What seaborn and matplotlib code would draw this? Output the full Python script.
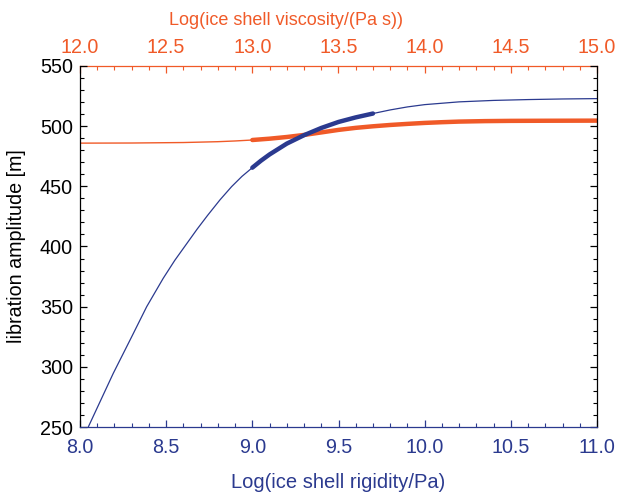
import numpy as np
import pandas as pd
import matplotlib
matplotlib.use("Agg")
import matplotlib.pyplot as plt
from matplotlib.ticker import MultipleLocator
import seaborn as sns

# --- data ---
rigidity = [8.048, 8.193, 8.30, 8.387, 8.483, 8.55, 8.62, 8.68, 8.74, 8.8125,
            8.88, 8.94, 9.0, 9.05, 9.1, 9.2, 9.3, 9.4, 9.5, 9.6,
            9.7, 9.8, 9.9, 10.0, 10.2, 10.4, 10.6, 10.8, 11.0]
amp_rigidity = [250, 294.6, 325, 350, 373.6, 388.5, 402.5, 414.5, 425.8, 438.8,
                449.8, 458.3, 465.5, 471.3, 476.5, 485.5, 492.5, 498.5, 503.5, 507.3,
                510.5, 513.5, 516.0, 517.9, 520.2, 521.4, 522.1, 522.6, 522.9]
rig_thick_range = (9.0, 9.7)

viscosity = [12.0, 12.3, 12.6, 12.8, 12.9, 13.0, 13.1, 13.2, 13.3, 13.4,
             13.5, 13.6, 13.7, 13.8, 13.9, 14.0, 14.1, 14.2, 14.35, 14.5,
             14.7, 15.0]
amp_viscosity = [485.9, 486.0, 486.4, 487.1, 487.7, 488.5, 489.6, 491.0, 492.7, 494.8,
                 496.9, 498.6, 499.9, 501.0, 501.9, 502.7, 503.3, 503.8, 504.2, 504.4,
                 504.5, 504.6]
visc_thick_range = (13.0, 15.0)

xticks_bottom = [8.0, 8.5, 9.0, 9.5, 10.0, 10.5, 11.0]
xticks_top = [12.0, 12.5, 13.0, 13.5, 14.0, 14.5, 15.0]
yticks = [250, 300, 350, 400, 450, 500, 550]

BLUE = "#2B3A8F"
ORANGE = "#F05A28"

sns.set_style("ticks")
plt.rcParams["font.family"] = ["Liberation Sans", "DejaVu Sans"]

df_r = pd.DataFrame({"x": rigidity, "y": amp_rigidity})
df_v = pd.DataFrame({"x": viscosity, "y": amp_viscosity})
df_r_thick = df_r[(df_r.x >= rig_thick_range[0]) & (df_r.x <= rig_thick_range[1])]
df_v_thick = df_v[(df_v.x >= visc_thick_range[0]) & (df_v.x <= visc_thick_range[1])]

fig = plt.figure(figsize=(6.19, 4.98), dpi=100)
ax = fig.add_axes([80/619, 1-427/498, 517/619, 361/498])
ax2 = ax.twiny()

sns.lineplot(data=df_v, x="x", y="y", ax=ax2, color=ORANGE, lw=1.0,
             estimator=None, sort=False)
sns.lineplot(data=df_v_thick, x="x", y="y", ax=ax2, color=ORANGE, lw=3.2,
             estimator=None, sort=False)
sns.lineplot(data=df_r, x="x", y="y", ax=ax, color=BLUE, lw=0.9,
             estimator=None, sort=False)
sns.lineplot(data=df_r_thick, x="x", y="y", ax=ax, color=BLUE, lw=3.2,
             estimator=None, sort=False)

ax.set_zorder(2)
ax.patch.set_visible(False)
ax2.set_zorder(1)

ax.set_xlim(8.0, 11.0)
ax.set_ylim(250, 550)
ax2.set_xlim(12.0, 15.0)
ax2.set_ylim(250, 550)

ax.set_xticks(xticks_bottom)
ax.set_xticklabels([f"{v:.1f}" for v in xticks_bottom])
ax2.set_xticks(xticks_top)
ax2.set_xticklabels([f"{v:.1f}" for v in xticks_top])
ax.set_yticks(yticks)
ax.set_yticklabels([str(v) for v in yticks])
ax.xaxis.set_minor_locator(MultipleLocator(0.1))
ax2.xaxis.set_minor_locator(MultipleLocator(0.1))
ax.yaxis.set_minor_locator(MultipleLocator(10))

ax.tick_params(axis="x", which="both", direction="in", colors=BLUE,
               labelsize=14.2, pad=8, bottom=True, top=False)
ax.tick_params(axis="y", which="both", direction="in", colors="black",
               labelsize=14.2, pad=5, left=True, right=True, labelright=False)
ax.tick_params(which="major", length=4.8, width=0.9)
ax.tick_params(which="minor", length=2.8, width=0.8)
ax2.tick_params(axis="x", which="both", direction="in", colors=ORANGE,
                labelsize=14.2, pad=6.5, top=True, bottom=False)
ax2.tick_params(which="major", length=4.8, width=0.9)
ax2.tick_params(which="minor", length=2.8, width=0.8)

for s in ["left", "right"]:
    ax.spines[s].set_color("black")
    ax.spines[s].set_linewidth(0.9)
ax.spines["bottom"].set_color(BLUE)
ax.spines["bottom"].set_linewidth(0.9)
ax.spines["top"].set_visible(False)
for s in ["left", "right", "bottom"]:
    ax2.spines[s].set_visible(False)
ax2.spines["top"].set_color(ORANGE)
ax2.spines["top"].set_linewidth(0.9)

ax.set_xlabel("Log(ice shell rigidity/Pa)", fontsize=14.5, color=BLUE, labelpad=11.5)
ax.set_ylabel("libration amplitude [m]", fontsize=14.2, color="black", labelpad=10)
ax2.set_xlabel("Log(ice shell viscosity/(Pa s))", fontsize=13.0, color=ORANGE)
ax2.xaxis.set_label_coords((286-80)/517, (427-25)/361)

fig.savefig("out.png", dpi=100)
